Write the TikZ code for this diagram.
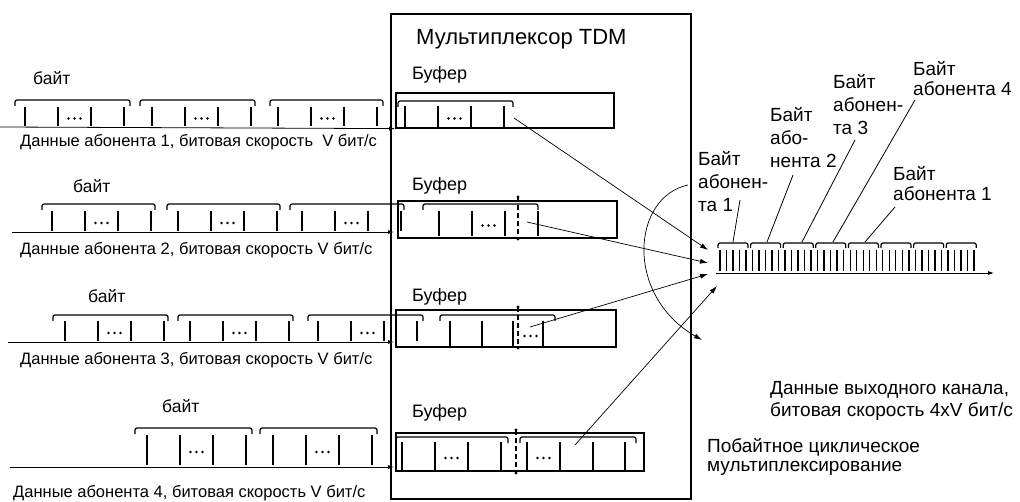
\documentclass[tikz,border=0pt]{standalone}
\usepackage{fontspec}
\setmainfont{Liberation Sans}
\usetikzlibrary{arrows.meta}
\newcommand\mydots[2]{\foreach \d in {-6,0,6}{\fill ({#1+\d},{#2}) circle (1.3pt);}}
\newcommand\mybyte[3]{%
  \foreach \k in {0,33,66,99}{\draw[bittick] ({#1+\k},{#2}) -- ({#1+\k},{#3});}%
  \mydots{#1+49.5}{(#2+#3)/2+2}}
\newcommand\mytick[3]{\draw[bittick] ({#1},{#2}) -- ({#1},{#3});}
\newcommand\mybrk[3]{\draw[bytebrk] ({#1},{#3+6}) -- ({#1},{#3}) -- ({#2},{#3}) -- ({#2},{#3+6});}
\newcommand\mycut[3]{\draw[cutline] ({#1},{#2}) -- ({#1},{#3});
  \fill ({#1},{#2}) circle (1.6pt); \fill ({#1},{#3}) circle (1.6pt);}
\begin{document}
\begin{tikzpicture}[x=1pt,y=-1pt,
  bittick/.style={line width=1.5pt},
  outtick/.style={line width=1.4pt},
  bytebrk/.style={line width=1.2pt, rounded corners=2pt},
  sigline/.style={line width=0.8pt,-{Latex[length=6pt,width=4pt]}},
  connarrow/.style={line width=0.7pt,-{Latex[length=8pt,width=5pt]}},
  leaderline/.style={line width=0.8pt},
  muxbox/.style={draw,line width=1.6pt,inner sep=0pt,anchor=north west},
  bufbox/.style={draw,line width=1.6pt,inner sep=0pt,anchor=north west},
  cutline/.style={line width=1.5pt,dash pattern=on 5pt off 3pt},
  captxt/.style={font=\fontsize{16.5}{20}\selectfont,inner sep=0pt,anchor=west},
  smalltxt/.style={font=\fontsize{17.5}{20}\selectfont,inner sep=0pt,anchor=west},
  buftxt/.style={font=\fontsize{18}{21}\selectfont,inner sep=0pt,anchor=west},
  labtxt/.style={font=\fontsize{19}{22}\selectfont,inner sep=0pt,anchor=base west},
  titletxt/.style={font=\fontsize{22}{26}\selectfont,inner sep=0pt,anchor=west},
]
\useasboundingbox (0,0) rectangle (1020,502);

% multiplexer box
\node[muxbox,minimum width=300pt,minimum height=485pt] (mx) at (390,13) {};
\node[titletxt] (title) at (416,39) {Мультиплексор TDM};

% buffers
\node[bufbox,minimum width=218pt,minimum height=35pt] (b1) at (395,92) {};
\node[bufbox,minimum width=219pt,minimum height=37pt] (b2) at (397,200) {};
\node[bufbox,minimum width=220pt,minimum height=37pt] (b3) at (395,309) {};
\node[bufbox,minimum width=248pt,minimum height=38pt] (b4) at (395,432) {};
\node[buftxt] (bf1) at (412,75) {Буфер};
\node[buftxt] (bf2) at (412,186) {Буфер};
\node[buftxt] (bf3) at (412,297) {Буфер};
\node[buftxt] (bf4) at (412,413) {Буфер};

% ---------- stream 1
\node[smalltxt] (by1) at (33,78) {байт};
\mybrk{15}{130}{100}\mybrk{140}{255}{100}\mybrk{270}{383}{100}
\mybyte{25}{107}{126}\mybyte{152}{107}{126}\mybyte{278}{107}{126}
\coordinate (s1) at (0,127);
\draw[sigline] (s1) -- (b1.south west);
\node[captxt] (c1) at (20,142) {Данные абонента 1, битовая скорость\ \ V бит/с};
% buffer 1 content
\mybrk{398}{513}{101}
\mybyte{405}{106}{127}
\coordinate (o1) at (514,118);

% ---------- stream 2
\node[smalltxt] (by2) at (73,186) {байт};
\mybrk{42}{155}{204}\mybrk{167}{280}{204}\mybrk{290}{404}{204}
\mybyte{52}{211}{231}\mybyte{178}{211}{231}\mybyte{302}{211}{231}
\coordinate (s2) at (12,232);
\coordinate (e2) at (394,232);
\draw[sigline] (s2) -- (e2);
\node[captxt] (c2) at (20,250) {Данные абонента 2, битовая скорость V бит/с};
% buffer 2 content
\mybrk{423}{538}{204}
\mybyte{439}{211}{236}
\mycut{518}{197}{239}
\coordinate (o2) at (527,222);

% ---------- stream 3
\node[smalltxt] (by3) at (88,296) {байт};
\mybrk{53}{168}{315}\mybrk{178}{293}{315}\mybrk{308}{423}{315}
\mybyte{65}{321}{341}\mybyte{190}{321}{341}\mybyte{318}{321}{341}
\coordinate (s3) at (8,342);
\coordinate (e3) at (394,342);
\draw[sigline] (s3) -- (e3);
\node[captxt] (c3) at (20,360) {Данные абонента 3, битовая скорость V бит/с};
% buffer 3 content
\mybrk{440}{555}{315}
\mytick{450}{321}{346}\mytick{482}{321}{346}\mytick{513}{321}{346}\mytick{543}{321}{346}
\mydots{530.5}{336}
\mycut{518}{307}{348}
\coordinate (o3) at (530,327);

% ---------- stream 4
\node[smalltxt] (by4) at (162,406) {байт};
\mybrk{135}{252}{428}\mybrk{260}{377}{428}
\mybyte{147}{435}{465}\mybyte{273}{435}{465}
\coordinate (s4) at (10,467);
\coordinate (e4) at (394,467);
\draw[sigline] (s4) -- (e4);
\node[captxt] (c4) at (13,493) {Данные абонента 4, битовая скорость V бит/с};
% buffer 4 content
\mybrk{396}{508}{437}
\mybyte{402}{442}{470}
\mycut{516}{430}{473}
\mybrk{520}{636}{437}
\mytick{527}{442}{470}\mytick{560}{442}{470}\mytick{593}{442}{470}\mytick{625}{442}{470}
\mydots{543.5}{458}
\coordinate (o4) at (575,445);

% ---------- output stream
\coordinate (ob) at (716,273);
\coordinate (oe) at (994,273);
\draw[sigline] (ob) -- (oe);
\foreach \k in {0,...,39}{\draw[outtick] ({720+6.51*\k},250) -- ({720+6.51*\k},271);}
\foreach \i in {0,...,7}{\draw[bytebrk] ({718+32.6*\i},248) -- ({718+32.6*\i},243) -- ({748+32.6*\i},243) -- ({748+32.6*\i},248);}

% arrows buffers -> output
\coordinate (i1) at (708,250);
\coordinate (i2) at (708,263);
\coordinate (i3) at (708,274);
\coordinate (i4) at (717,286);
\draw[connarrow] (o1) -- (i1);
\draw[connarrow] (o2) -- (i2);
\draw[connarrow] (o3) -- (i3);
\draw[connarrow] (o4) -- (i4);

% cyclic arrow
\coordinate (ca) at (688,185);
\coordinate (cb) at (702,340);
\draw[connarrow] (ca) .. controls (632,197) and (624,295) .. (cb);

% labels
\node[labtxt] (l4a) at (913,76) {Байт};
\node[labtxt] (l4b) at (913,96) {абонента 4};
\node[labtxt] (l3a) at (833,89) {Байт};
\node[labtxt] (l3b) at (833,112) {абонен-};
\node[labtxt] (l3c) at (833,135) {та 3};
\node[labtxt] (l2a) at (770,122) {Байт};
\node[labtxt] (l2b) at (770,145) {або-};
\node[labtxt] (l2c) at (770,168) {нента 2};
\node[labtxt] (l1a) at (698,166) {Байт};
\node[labtxt] (l1b) at (698,189) {абонен-};
\node[labtxt] (l1c) at (698,212) {та 1};
\node[labtxt] (l5a) at (893,181) {Байт};
\node[labtxt] (l5b) at (893,201) {абонента 1};

\coordinate (p4a) at (915,100); \coordinate (p4b) at (833,242);
\coordinate (p3a) at (855,140); \coordinate (p3b) at (802,242);
\coordinate (p2a) at (793,175); \coordinate (p2b) at (767,242);
\coordinate (p1a) at (740,200); \coordinate (p1b) at (733,242);
\coordinate (p5a) at (895,207); \coordinate (p5b) at (865,242);
\draw[leaderline] (p4a) -- (p4b);
\draw[leaderline] (p3a) -- (p3b);
\draw[leaderline] (p2a) -- (p2b);
\draw[leaderline] (p1a) -- (p1b);
\draw[leaderline] (p5a) -- (p5b);

% bottom-right texts
\node[labtxt] (d1) at (770,395) {Данные выходного канала,};
\node[labtxt] (d2) at (770,417) {битовая скорость 4xV бит/с};
\node[labtxt] (m1) at (707,452) {Побайтное циклическое};
\node[labtxt] (m2) at (707,471) {мультиплексирование};
\end{tikzpicture}
\end{document}
